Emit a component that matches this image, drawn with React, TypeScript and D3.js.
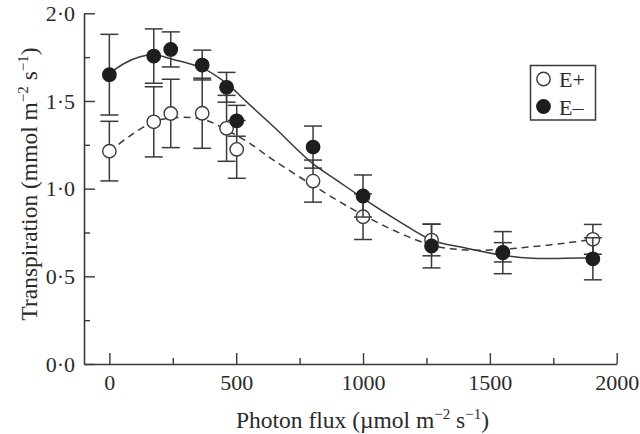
import React, { useEffect, useRef } from "react";
import * as d3 from "d3";

// ---- data ----
const photonFlux = [0, 175, 242, 366, 462, 502, 803, 1000, 1270, 1551, 1906];
const ePlusMean = [1.214, 1.381, 1.429, 1.43, 1.344, 1.224, 1.043, 0.84, 0.707, 0.637, 0.711];
const ePlusErr = [0.17, 0.2, 0.195, 0.2, 0.188, 0.165, 0.12, 0.13, 0.09, 0.055, 0.085];
const eMinusMean = [1.65, 1.756, 1.794, 1.705, 1.578, 1.387, 1.237, 0.958, 0.673, 0.635, 0.6];
const eMinusErr = [0.23, 0.155, 0.1, 0.085, 0.085, 0.088, 0.12, 0.12, 0.125, 0.12, 0.12];

// fitted curves
const fitMinusX = [0, 60, 121, 173, 252, 370, 462, 541, 650, 801, 900, 1000, 1145, 1270, 1408, 1551, 1669, 1800, 1930];
const fitMinusY = [1.657, 1.715, 1.752, 1.763, 1.737, 1.686, 1.6, 1.495, 1.35, 1.144, 1.045, 0.945, 0.811, 0.707, 0.66, 0.62, 0.603, 0.603, 0.606];
const fitPlusX = [0, 80, 173, 226, 318, 383, 462, 541, 650, 801, 950, 1105, 1270, 1408, 1551, 1669, 1800, 1906];
const fitPlusY = [1.21, 1.3, 1.381, 1.4, 1.406, 1.39, 1.334, 1.27, 1.16, 1.02, 0.89, 0.773, 0.678, 0.65, 0.654, 0.669, 0.69, 0.711];

const xMajor = [0, 500, 1000, 1500, 2000];
const xMinor = [250, 750, 1250, 1750];
const yMajor = [0, 0.5, 1.0, 1.5, 2.0];
const yMinor = [0.25, 0.75, 1.25, 1.75];
const legendLabels = ["E+", "E\u2013"];

const W = 640;
const H = 434;
const INK = "#3a3a3a";
const FONT = "'Liberation Serif', 'Times New Roman', serif";
const TICK_FS = 22;
const TITLE_FS = 23.5;
const SUP_FS = 15;

export default function App() {
  const ref = useRef<SVGSVGElement | null>(null);

  useEffect(() => {
    const svg = d3.select(ref.current);
    svg.selectAll("*").remove();

    const x = d3.scaleLinear().domain([-100, 2000]).range([84, 616.7]);
    const y = d3.scaleLinear().domain([0, 2]).range([364, 13.3]);
    const fmt = (v: number) => d3.format(".1f")(v).replace(".", "\u00b7");

    // axes
    const gy = svg.append("g").attr("transform", `translate(${x(-100)},0)`);
    gy.call(
      d3.axisLeft(y).tickValues(yMajor).tickSizeInner(-11).tickSizeOuter(0).tickPadding(9).tickFormat(fmt as any)
    );
    const gyMinor = svg.append("g").attr("transform", `translate(${x(-100)},0)`);
    gyMinor.call(d3.axisLeft(y).tickValues(yMinor).tickSizeInner(-6).tickSizeOuter(0).tickFormat(() => ""));
    gyMinor.select(".domain").remove();

    const gx = svg.append("g").attr("transform", `translate(0,${y(0)})`);
    gx.call(
      d3.axisBottom(x).tickValues(xMajor).tickSizeInner(-11).tickSizeOuter(0).tickPadding(10.5).tickFormat(d3.format("d") as any)
    );
    const gxMinor = svg.append("g").attr("transform", `translate(0,${y(0)})`);
    gxMinor.call(d3.axisBottom(x).tickValues(xMinor).tickSizeInner(-6).tickSizeOuter(0).tickFormat(() => ""));
    gxMinor.select(".domain").remove();

    svg.selectAll(".domain").attr("stroke", INK).attr("stroke-width", 1.6);
    svg.selectAll(".tick line").attr("stroke", INK).attr("stroke-width", 1.4);
    svg
      .selectAll(".tick text")
      .attr("fill", "#2a2a2a")
      .attr("font-family", FONT)
      .attr("font-size", TICK_FS);

    // curves
    const line = d3
      .line<[number, number]>()
      .x((d) => x(d[0]))
      .y((d) => y(d[1]))
      .curve(d3.curveCatmullRom.alpha(0.5));
    const minusPts = fitMinusX.map((v, i) => [v, fitMinusY[i]] as [number, number]);
    const plusPts = fitPlusX.map((v, i) => [v, fitPlusY[i]] as [number, number]);
    svg
      .append("path")
      .attr("d", line(plusPts))
      .attr("fill", "none")
      .attr("stroke", INK)
      .attr("stroke-width", 1.5)
      .attr("stroke-dasharray", "7,5");
    svg
      .append("path")
      .attr("d", line(minusPts))
      .attr("fill", "none")
      .attr("stroke", INK)
      .attr("stroke-width", 1.5);

    const cap = 9;
    const drawSeries = (mean: number[], err: number[], filled: boolean) => {
      const g = svg.append("g");
      photonFlux.forEach((px, i) => {
        const cx = x(px);
        const top = y(mean[i] + err[i]);
        const bot = y(mean[i] - err[i]);
        g.append("line").attr("x1", cx).attr("x2", cx).attr("y1", top).attr("y2", bot);
        g.append("line").attr("x1", cx - cap).attr("x2", cx + cap).attr("y1", top).attr("y2", top);
        g.append("line").attr("x1", cx - cap).attr("x2", cx + cap).attr("y1", bot).attr("y2", bot);
      });
      g.selectAll("line").attr("stroke", INK).attr("stroke-width", 1.5);
      photonFlux.forEach((px, i) => {
        g.append("circle")
          .attr("cx", x(px))
          .attr("cy", y(mean[i]))
          .attr("r", 6.7)
          .attr("fill", filled ? "#1e1e1e" : "#ffffff")
          .attr("stroke", filled ? "#1e1e1e" : INK)
          .attr("stroke-width", 1.4);
      });
    };
    drawSeries(ePlusMean, ePlusErr, false);
    drawSeries(eMinusMean, eMinusErr, true);

    // legend
    const lg = svg.append("g");
    lg.append("rect")
      .attr("x", 530.5)
      .attr("y", 65.5)
      .attr("width", 65)
      .attr("height", 54.5)
      .attr("fill", "#fff")
      .attr("stroke", INK)
      .attr("stroke-width", 1.5);
    legendLabels.forEach((lab, i) => {
      const cy = 79 + i * 27.5;
      lg.append("circle")
        .attr("cx", 543.5)
        .attr("cy", cy)
        .attr("r", 6.7)
        .attr("fill", i === 0 ? "#fff" : "#1e1e1e")
        .attr("stroke", i === 0 ? INK : "#1e1e1e")
        .attr("stroke-width", 1.4);
      lg.append("text")
        .attr("x", 559)
        .attr("y", cy + 8)
        .attr("font-family", FONT)
        .attr("font-size", TICK_FS)
        .attr("fill", "#2a2a2a")
        .text(lab);
    });

    // axis titles
    const xt = svg
      .append("text")
      .attr("x", 362.5)
      .attr("y", 428)
      .attr("text-anchor", "middle")
      .attr("font-family", FONT)
      .attr("font-size", TITLE_FS)
      .attr("fill", "#2a2a2a");
    xt.append("tspan").text("Photon flux (\u00b5mol m");
    xt.append("tspan").attr("dy", -9).attr("font-size", SUP_FS).text("\u22122");
    xt.append("tspan").attr("dy", 9).text(" s");
    xt.append("tspan").attr("dy", -9).attr("font-size", SUP_FS).text("\u22121");
    xt.append("tspan").attr("dy", 9).text(")");

    const yt = svg
      .append("text")
      .attr("transform", `translate(37,184) rotate(-90)`)
      .attr("text-anchor", "middle")
      .attr("font-family", FONT)
      .attr("font-size", TITLE_FS)
      .attr("fill", "#2a2a2a");
    yt.append("tspan").text("Transpiration (mmol m");
    yt.append("tspan").attr("dy", -9).attr("font-size", SUP_FS).text("\u22122");
    yt.append("tspan").attr("dy", 9).text(" s");
    yt.append("tspan").attr("dy", -9).attr("font-size", SUP_FS).text("\u22121");
    yt.append("tspan").attr("dy", 9).text(")");
  }, []);

  return (
    <svg
      ref={ref}
      width={W}
      height={H}
      style={{ position: "absolute", left: 0, top: 0, background: "#fff" }}
    />
  );
}
